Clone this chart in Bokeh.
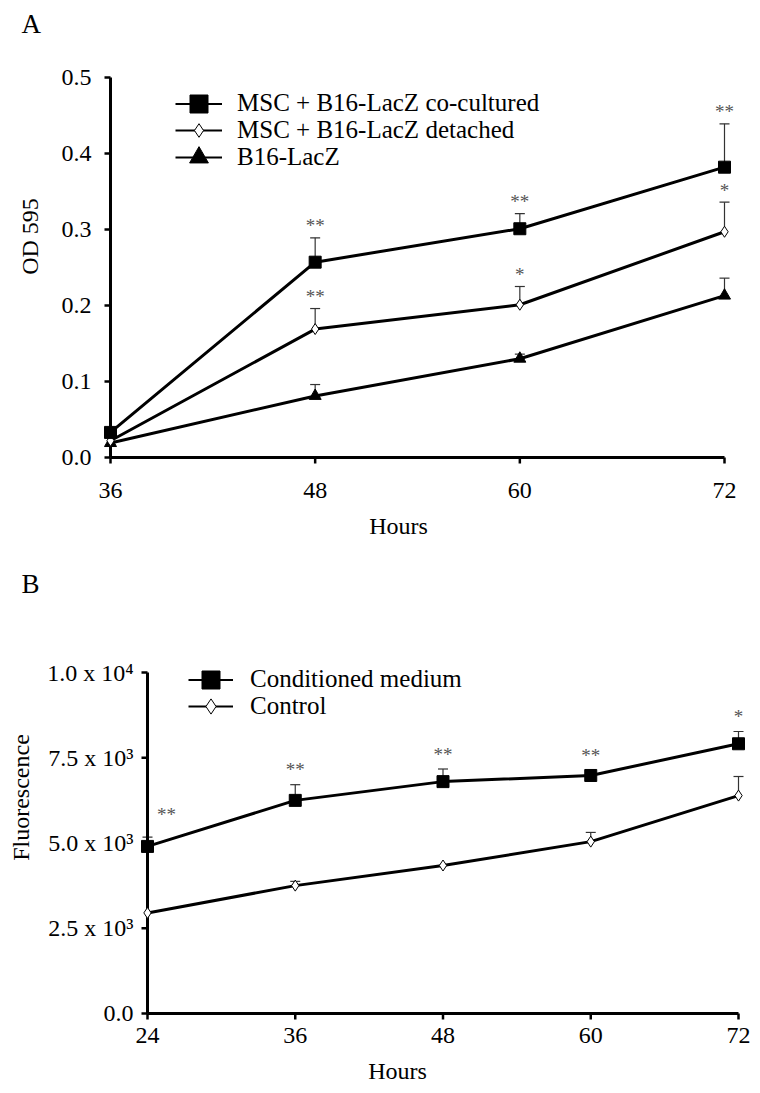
import math
import numpy as np
from bokeh.plotting import figure
from bokeh.models import Range1d, Whisker, TeeHead, ColumnDataSource, Legend, LegendItem
from bokeh.core.properties import value
from bokeh.embed import file_html
from bokeh.resources import INLINE

FONT = "Liberation Serif"
NAN = float("nan")

# ---------------- Panel A data ----------------
hours_a = [36, 48, 60, 72]
cocult = [0.033, 0.257, 0.301, 0.382]
cocult_err = [NAN, 0.032, 0.020, 0.057]
cocult_sig = ["", "**", "**", "**"]
detached = [0.022, 0.169, 0.201, 0.297]
detached_err = [NAN, 0.027, 0.024, 0.039]
detached_sig = ["", "**", "*", "*"]
b16 = [0.019, 0.081, 0.130, 0.213]
b16_err = [NAN, 0.015, 0.006, 0.023]
b16_sig = ["", "", "", ""]
yticks_a = [0.0, 0.1, 0.2, 0.3, 0.4, 0.5]
yticklabels_a = ["0.0", "0.1", "0.2", "0.3", "0.4", "0.5"]
labels_a = ["MSC + B16-LacZ co-cultured", "MSC + B16-LacZ detached", "B16-LacZ"]

# ---------------- Panel B data ----------------
hours_b = [24, 36, 48, 60, 72]
cond = [4900, 6250, 6800, 6980, 7910]
cond_err = [270, 460, 370, 150, 360]
cond_sig = ["**", "**", "**", "**", "*"]
ctrl = [2950, 3750, 4340, 5040, 6390]
ctrl_err = [NAN, 125, NAN, 270, 560]
ctrl_sig = ["", "", "", "", ""]
yticks_b = [0, 2500, 5000, 7500, 10000]
yticklabels_b = ["0.0", "2.5 x 10\u00b3", "5.0 x 10\u00b3", "7.5 x 10\u00b3", "1.0 x 10\u2074"]
labels_b = ["Conditioned medium", "Control"]

W = 760


def make_fig(height, x_anchor, x_px, kx, y_anchor, y_px, ky):
    """Figure whose plotting frame covers the whole canvas; axes are drawn by hand."""
    p = figure(width=W, height=height, output_backend="svg", toolbar_location=None,
               x_axis_location=None, y_axis_location=None,
               x_range=Range1d(x_anchor - x_px / kx, x_anchor + (W - x_px) / kx),
               y_range=Range1d(y_anchor - (height - y_px) / ky, y_anchor + y_px / ky),
               min_border_left=0, min_border_right=0, min_border_top=0, min_border_bottom=0)
    p.outline_line_color = None
    p.background_fill_color = "white"
    p.grid.visible = False
    return p


def txt(p, x, y, t, xo=0, yo=0, size="24px", align="center", baseline="middle", angle=0.0,
        color="black"):
    src = ColumnDataSource(dict(x=x, y=y, t=t))
    p.text(x="x", y="y", text="t", source=src, x_offset=xo, y_offset=yo, angle=angle,
           text_font=value(FONT), text_font_size=size, text_color=color,
           text_align=align, text_baseline=baseline)


def draw_axes(p, hours, yticks, ylabels, kx, ky, ylab_dx, xlab_dy):
    x0, y0 = hours[0], yticks[0]
    # tick marks (6 px outward)
    p.segment(x0=[x0] * len(yticks), y0=yticks, x1=[x0 - 6 / kx] * len(yticks), y1=yticks,
              line_color="black", line_width=2.5)
    p.segment(x0=hours, y0=[y0] * len(hours), x1=hours, y1=[y0 - 6 / ky] * len(hours),
              line_color="black", line_width=2.5)
    # axis lines
    p.segment(x0=[x0, x0], y0=[y0, y0], x1=[x0, hours[-1]], y1=[yticks[-1], y0],
              line_color="black", line_width=3)
    # tick labels
    txt(p, [x0] * len(yticks), yticks, ylabels, xo=ylab_dx, align="right")
    txt(p, hours, [y0] * len(hours), [str(h) for h in hours], yo=xlab_dy)


def series(p, x, y, err, sig, marker, size, fill, star_dy, first_dx=0, first_dy=None):
    p.line(x, y, line_width=3, line_color="black")
    xs = [xi for xi, ei in zip(x, err) if np.isfinite(ei)]
    ys = [yi for yi, ei in zip(y, err) if np.isfinite(ei)]
    us = [yi + ei for yi, ei in zip(y, err) if np.isfinite(ei)]
    wsrc = ColumnDataSource(dict(x=xs, y=ys, upper=us))
    w = Whisker(source=wsrc, base="x", upper="upper", lower="y", dimension="height",
                line_color="#333333", line_width=1.2, lower_head=None,
                upper_head=TeeHead(size=10, line_color="#333333", line_width=1.2),
                level="underlay")
    p.add_layout(w)
    p.scatter(x, y, marker=marker, size=size, fill_color=fill, line_color="black", line_width=1)
    tx, ty, tt, xo, yo = [], [], [], [], []
    for i, (xi, yi, ei, si) in enumerate(zip(x, y, err, sig)):
        if not si:
            continue
        tx.append(xi)
        ty.append(yi + ei if np.isfinite(ei) else yi)
        tt.append(si)
        if i == 0 and first_dy is not None:
            xo.append(first_dx)
            yo.append(first_dy)
        else:
            xo.append(0)
            yo.append(star_dy)
    if tx:
        ssrc = ColumnDataSource(dict(x=tx, y=ty, t=tt, xo=xo, yo=yo))
        p.text(x="x", y="y", text="t", x_offset="xo", y_offset="yo", source=ssrc,
               text_font=value(FONT), text_font_size="19px", text_color="#555555",
               text_align="center", text_baseline="alphabetic")


def legend_row(p, label, marker, gh, fill, gw, loc, standoff):
    lr = p.line([NAN], [NAN], line_width=2, line_color="black")
    sr = p.scatter([NAN], [NAN], marker=marker, size=10, fill_color=fill,
                   line_color="black", line_width=1)
    leg = Legend(items=[LegendItem(label=label, renderers=[lr, sr])], location=loc,
                 glyph_width=gw, glyph_height=gh, label_standoff=standoff,
                 padding=0, margin=0, border_line_color=None, background_fill_alpha=0,
                 label_text_font=FONT, label_text_font_size="25px", label_text_color="black")
    p.add_layout(leg)


# ---------------- Panel A ----------------
HA = 548
kxA = 614 / (hours_a[-1] - hours_a[0])
kyA = 380 / (yticks_a[-1] - yticks_a[0])
pA = make_fig(HA, hours_a[0], 110, kxA, yticks_a[0], 457, kyA)
draw_axes(pA, hours_a, yticks_a, yticklabels_a, kxA, kyA, ylab_dx=-19, xlab_dy=33)

series(pA, hours_a, b16, b16_err, b16_sig, "triangle", 12, "black", -12)
series(pA, hours_a, detached, detached_err, detached_sig, "diamond", 11, "white", -12)
series(pA, hours_a, cocult, cocult_err, cocult_sig, "square", 12, "black", -12)

legend_row(pA, labels_a[0], "square", 45, "black", 47, (175, HA - 103 - 22.5), 15)
legend_row(pA, labels_a[1], "diamond", 34, "white", 47, (175, HA - 130 - 17), 15)
legend_row(pA, labels_a[2], "triangle", 48, "black", 47, (175, HA - 157 - 24), 15)

txt(pA, [hours_a[0]], [yticks_a[-1]], ["A"], xo=-89, yo=-54, size="27px",
    align="left", baseline="alphabetic")
txt(pA, [hours_a[0]], [yticks_a[0]], ["OD 595"], xo=-81, yo=-221, angle=math.pi / 2)
txt(pA, [hours_a[0]], [yticks_a[0]], ["Hours"], xo=288, yo=68)

# ---------------- Panel B ----------------
HB = 545
kxB = 591 / (hours_b[-1] - hours_b[0])
kyB = 341 / (yticks_b[-1] - yticks_b[0])
pB = make_fig(HB, hours_b[0], 147, kxB, yticks_b[0], 465, kyB)
draw_axes(pB, hours_b, yticks_b, yticklabels_b, kxB, kyB, ylab_dx=-14, xlab_dy=22)

series(pB, hours_b, ctrl, ctrl_err, ctrl_sig, "diamond", 11, "white", -15)
series(pB, hours_b, cond, cond_err, cond_sig, "square", 12, "black", -15,
       first_dx=19, first_dy=-23)

legend_row(pB, labels_b[0], "square", 45, "black", 45, (188, HB - (679 - 548) - 22.5), 17)
legend_row(pB, labels_b[1], "diamond", 38, "white", 45, (188, HB - (706 - 548) - 19), 17)

txt(pB, [hours_b[0]], [yticks_b[-1]], ["B"], xo=-126, yo=-89, size="27px",
    align="left", baseline="alphabetic")
txt(pB, [hours_b[0]], [yticks_b[0]], ["Fluorescence"], xo=-127, yo=-216, angle=math.pi / 2)
txt(pB, [hours_b[0]], [yticks_b[0]], ["Hours"], xo=250, yo=57)

open("out.html", "w").write(file_html([pA, pB], INLINE))
